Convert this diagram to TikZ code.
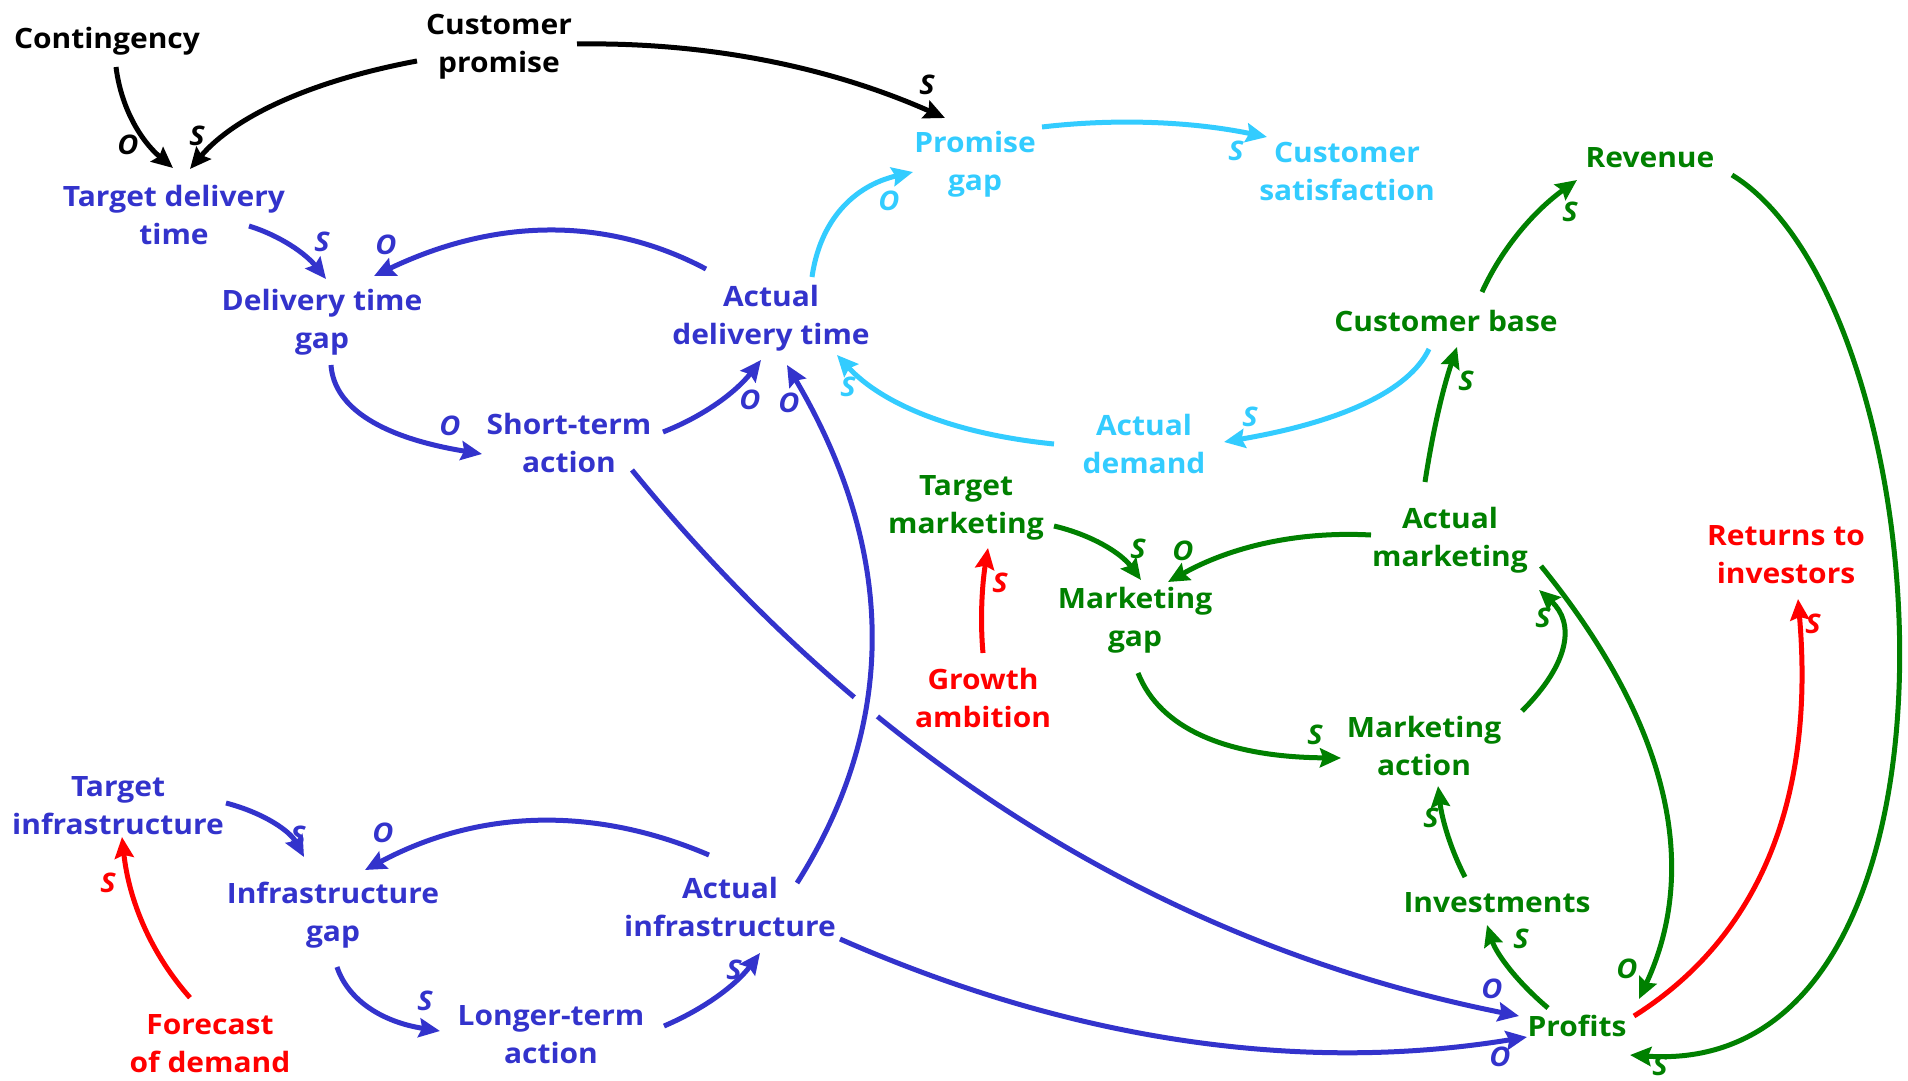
\documentclass[tikz,border=0pt]{standalone}
\usepackage{fontspec}
\setmainfont{Open Sans}[FakeStretch=1.07]
\usetikzlibrary{arrows.meta,calc,intersections}

\definecolor{cblue}{RGB}{51,51,204}
\definecolor{ccyan}{RGB}{51,204,255}
\definecolor{cgreen}{RGB}{0,128,0}
\definecolor{cred}{RGB}{255,0,0}

\tikzset{
  var/.style={align=center, inner sep=0pt, font=\fontsize{28}{38}\selectfont\bfseries},
  lnk/.style={line width=5pt, -{Stealth[length=21pt,width=19pt,inset=3pt]}},
  sgn/.style={inner sep=0pt, font=\fontsize{27}{27}\selectfont\bfseries\itshape},
}

\begin{document}
\begin{tikzpicture}[x=1pt,y=-1pt]
\fill[white] (0,0) rectangle (1908,1081);
\useasboundingbox (0,0) rectangle (1908,1081);

% ---------- variables ----------
\node[var] (cont) at (107,41) {Contingency};
\node[var] (cprom) at (499,47) {Customer\\promise};
\node[var,text=cblue] (tdt) at (174,215) {Target delivery\\time};
\node[var,text=cblue] (dtg) at (322,322) {Delivery time\\gap};
\node[var,text=cblue] (sta) at (569,443) {Short-term\\action};
\node[var,text=cblue] (adt) at (771,318) {Actual\\delivery time};
\node[var,text=ccyan] (pg) at (975,164) {Promise\\gap};
\node[var,text=ccyan] (csat) at (1347,171) {Customer\\satisfaction};
\node[var,text=ccyan] (ad) at (1144,444) {Actual\\demand};
\node[var,text=cgreen] (rev) at (1650,158) {Revenue};
\node[var,text=cgreen] (cb) at (1446,321) {Customer base};
\node[var,text=cgreen] (tm) at (966,508) {Target\\marketing};
\node[var,text=cgreen] (mg) at (1135,620) {Marketing\\gap};
\node[var,text=cgreen] (am) at (1450,540) {Actual\\marketing};
\node[var,text=cgreen] (ma) at (1424,746) {Marketing\\action};
\node[var,text=cgreen] (inv) at (1497,903) {Investments};
\node[var,text=cgreen] (prof) at (1577,1026) {Profits};
\node[var,text=cred] (rti) at (1786,555) {Returns to\\investors};
\node[var,text=cred] (ga) at (983,698) {Growth\\ambition};
\node[var,text=cblue] (ti) at (118,806) {Target\\infrastructure};
\node[var,text=cblue] (ig) at (333,915) {Infrastructure\\gap};
\node[var,text=cblue] (ai) at (730,907) {Actual\\infrastructure};
\node[var,text=cblue] (lta) at (551,1035) {Longer-term\\action};
\node[var,text=cred,anchor=south] (fod) at (210,1073) {Forecast\\of demand};

% ---------- black links ----------
\draw[lnk,black] ($(cont)+(9,26)$) .. controls +(5,40) and +(-33,-28) .. ($(tdt)+(-1,-47)$);
\draw[lnk,black] ($(cprom)+(-82,14)$) .. controls +(-107,20) and +(44,-52) .. ($(tdt)+(16,-46)$);
\draw[lnk,black] ($(cprom)+(78,-3)$) .. controls +(131,-2) and +(-115,-51) .. ($(pg)+(-30,-46)$);

% ---------- delivery loop (blue) ----------
\draw[lnk,cblue] ($(tdt)+(75,11)$) .. controls +(32,10) and +(-20,-25) .. ($(dtg)+(4,-43)$);
\draw[lnk,cblue] ($(adt)+(-65,-49)$) .. controls +(-100,-53) and +(121,-58) .. ($(dtg)+(52,-46)$);
\draw[lnk,cblue] ($(dtg)+(9,43)$) .. controls +(3,44) and +(-98,-16) .. ($(sta)+(-87,11)$);
\draw[lnk,cblue] ($(sta)+(94,-11)$) .. controls +(41,-16) and +(-25,32) .. ($(adt)+(-10,42)$);

% ---------- customer loop (cyan) ----------
\draw[lnk,ccyan] ($(adt)+(41,-41)$) .. controls +(8,-56) and +(-60,14) .. ($(pg)+(-62,8)$);
\draw[lnk,ccyan] ($(pg)+(67,-37)$) .. controls +(77,-9) and +(-73,-15) .. ($(csat)+(-80,-34)$);
\draw[lnk,ccyan] ($(ad)+(-90,0)$) .. controls +(-100,-10) and +(45,49) .. ($(adt)+(66,37)$);
\draw[lnk,ccyan] ($(cb)+(-17,28)$) .. controls +(-20,42) and +(117,-20) .. ($(ad)+(80,-2)$);

% ---------- marketing and profit links (green / red) ----------
\draw[lnk,cgreen] ($(cb)+(36,-29)$) .. controls +(20,-44) and +(-43,31) .. ($(rev)+(-73,22)$);
\draw[lnk,cgreen] ($(am)+(-25,-58)$) .. controls +(7,-46) and +(-15,44) .. ($(cb)+(11,26)$);
\draw[lnk,cgreen] ($(rev)+(82,17)$) .. controls +(212,130) and +(365,25) .. ($(prof)+(53,29)$);
\draw[lnk,cgreen] ($(tm)+(88,18)$) .. controls +(38,9) and +(-20,-27) .. ($(mg)+(6,-40)$);
\draw[lnk,cgreen] ($(am)+(-79,-5)$) .. controls +(-74,-4) and +(62,-35) .. ($(mg)+(33,-38)$);
\draw[lnk,cred] ($(ga)+(0,-45)$) .. controls +(-3,-33) and +(-6,37) .. ($(tm)+(22,40)$);
\draw[lnk,cgreen] ($(mg)+(3,53)$) .. controls +(22,56) and +(-114,-1) .. ($(ma)+(-83,12)$);
\draw[lnk,cgreen] ($(ma)+(98,-35)$) .. controls +(48,-48) and +(36,33) .. ($(am)+(89,50)$);
\draw[lnk,cgreen] ($(inv)+(-32,-26)$) .. controls +(-14,-27) and +(4,34) .. ($(ma)+(14,40)$);
\draw[lnk,cgreen] ($(prof)+(-29,-18)$) .. controls +(-32,-27) and +(9,28) .. ($(inv)+(-10,22)$);
\draw[lnk,cgreen] ($(am)+(91,26)$) .. controls +(127,156) and +(62,-133) .. ($(prof)+(62,-27)$);
\draw[lnk,cred] ($(prof)+(57,-10)$) .. controls +(127,-80) and +(17,198) .. ($(rti)+(12,44)$);

% ---------- infrastructure loop (blue) ----------
\draw[lnk,cblue] ($(ti)+(108,-3)$) .. controls +(38,10) and +(-14,-26) .. ($(ig)+(-29,-58)$);
\draw[lnk,cblue] ($(ai)+(-21,-52)$) .. controls +(-117,-50) and +(112,-60) .. ($(ig)+(32,-45)$);
\draw[lnk,cblue] ($(ig)+(4,52)$) .. controls +(11,33) and +(-58,-9) .. ($(lta)+(-111,-4)$);
\draw[lnk,cblue] ($(lta)+(113,-9)$) .. controls +(40,-17) and +(-24,32) .. ($(ai)+(30,46)$);
\draw[lnk,cred] ($(fod)+(-20,-46)$) .. controls +(-39,-44) and +(7,64) .. ($(ti)+(4,31)$);
\draw[lnk,cblue] ($(ai)+(110,32)$) .. controls +(232,102) and +(-226,37) .. ($(prof)+(-50,11)$);

% short-term action to profits, broken where the infrastructure link passes over it
\draw[lnk,cblue,name path=stprof] ($(sta)+(63,27)$) .. controls +(240,294) and +(-351,-70) .. ($(prof)+(-58,-10)$);
\path[name path=aiadt] ($(ai)+(67,-24)$) .. controls +(102,-161) and +(109,185) .. ($(adt)+(16,47)$);
\path[name intersections={of=stprof and aiadt, by=cross}];
\fill[white] (cross) circle (15);
\draw[lnk,cblue] ($(ai)+(67,-24)$) .. controls +(102,-161) and +(109,185) .. ($(adt)+(16,47)$);

% ---------- polarity marks ----------
\node[sgn] (p1) at (128,145) {O};
\node[sgn] (p2) at (197,136) {S};
\node[sgn] (p3) at (927,85) {S};
\node[sgn,text=cblue] (p4) at (322,242) {S};
\node[sgn,text=cblue] (p5) at (386,245) {O};
\node[sgn,text=cblue] (p6) at (450,426) {O};
\node[sgn,text=cblue] (p7) at (750,400) {O};
\node[sgn,text=cblue] (p8) at (789,403) {O};
\node[sgn,text=ccyan] (p9) at (889,201) {O};
\node[sgn,text=ccyan] (p10) at (1236,151) {S};
\node[sgn,text=ccyan] (p11) at (848,387) {S};
\node[sgn,text=ccyan] (p12) at (1250,417) {S};
\node[sgn,text=cgreen] (p13) at (1570,212) {S};
\node[sgn,text=cgreen] (p14) at (1466,381) {S};
\node[sgn,text=cgreen] (p15) at (1660,1066) {S};
\node[sgn,text=cgreen] (p16) at (1138,549) {S};
\node[sgn,text=cgreen] (p17) at (1183,551) {O};
\node[sgn,text=cred] (p18) at (1000,583) {S};
\node[sgn,text=cgreen] (p19) at (1315,735) {S};
\node[sgn,text=cgreen] (p20) at (1543,618) {S};
\node[sgn,text=cgreen] (p21) at (1431,818) {S};
\node[sgn,text=cgreen] (p22) at (1521,939) {S};
\node[sgn,text=cgreen] (p23) at (1627,969) {O};
\node[sgn,text=cred] (p24) at (1813,624) {S};
\node[sgn,text=cblue] (p25) at (1492,989) {O};
\node[sgn,text=cblue] (p26) at (1500,1057) {O};
\node[sgn,text=cblue] (p27) at (298,836) {S};
\node[sgn,text=cblue] (p28) at (383,833) {O};
\node[sgn,text=cblue] (p29) at (425,1001) {S};
\node[sgn,text=cblue] (p30) at (734,970) {S};
\node[sgn,text=cred] (p31) at (108,883) {S};
\end{tikzpicture}
\end{document}
